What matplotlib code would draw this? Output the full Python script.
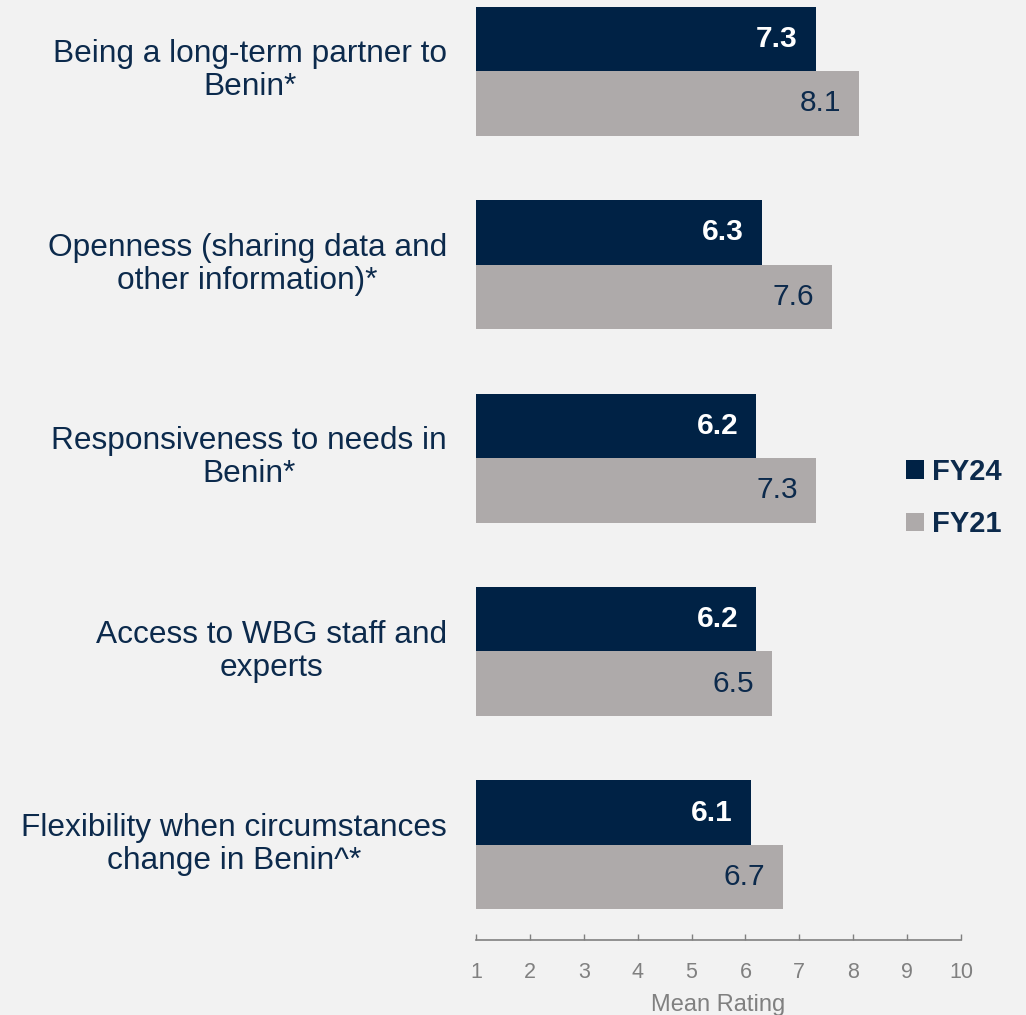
import matplotlib
matplotlib.use("Agg")
import matplotlib.pyplot as plt
from matplotlib.patches import Patch
import numpy as np

categories = [
    "Being a long-term partner to\nBenin*",
    "Openness (sharing data and\nother information)*",
    "Responsiveness to needs in\nBenin*",
    "Access to WBG staff and\nexperts",
    "Flexibility when circumstances\nchange in Benin^*",
]
fy24 = [7.3, 6.3, 6.2, 6.2, 6.1]
fy21 = [8.1, 7.6, 7.3, 6.5, 6.7]
series_names = ["FY24", "FY21"]
xticks = [1, 2, 3, 4, 5, 6, 7, 8, 9, 10]

NAVY = "#002245"
GRAY = "#aeaaaa"
TEXT = "#0c2a4c"
AXGRAY = "#808080"
BG = "#f2f2f2"

plt.rcParams['font.family'] = ['Liberation Sans', 'DejaVu Sans']

fig = plt.figure(figsize=(10.26, 10.15), dpi=100, facecolor=BG)
ax = fig.add_axes([476/1026, 75/1015, 485/1026, 940/1015])
ax.set_facecolor(BG)

y = np.arange(len(categories))
h = 1/3
base = 1
ax.barh(y - h/2, np.array(fy24) - base, left=base, height=h, color=NAVY)
ax.barh(y + h/2, np.array(fy21) - base, left=base, height=h, color=GRAY)

pad = 0.33
for i, v in enumerate(fy24):
    ax.text(v - pad, y[i] - h/2, f"{v:.1f}", ha="right", va="center",
            color="white", fontsize=21.5, fontweight="bold")
for i, v in enumerate(fy21):
    ax.text(v - pad, y[i] + h/2, f"{v:.1f}", ha="right", va="center",
            color=TEXT, fontsize=21.5)

ax.set_xlim(1, 10)
ax.set_ylim(4.491, -0.367)
ax.set_xticks(xticks)
ax.set_xticklabels([str(t) for t in xticks])
ax.tick_params(axis="x", direction="in", length=4.5, width=1, colors=AXGRAY,
               labelsize=15.5, pad=15.5)
ax.set_yticks(y - 0.028)
ax.set_yticklabels(categories, fontsize=22.8, color=TEXT, linespacing=1.13)
ax.tick_params(axis="y", length=0, pad=21)
for lbl in ax.get_yticklabels():
    lbl.set_multialignment("center")

for s in ["top", "right", "left"]:
    ax.spines[s].set_visible(False)
ax.spines["bottom"].set_color(AXGRAY)
ax.spines["bottom"].set_linewidth(1.2)

ax.set_xlabel("Mean Rating", fontsize=17, color=AXGRAY, labelpad=8)

handles = [Patch(facecolor=NAVY, label=series_names[0]),
           Patch(facecolor=GRAY, label=series_names[1])]
leg = fig.legend(handles=handles, loc="center left",
                 bbox_to_anchor=(906/1026, 1 - 498/1015), frameon=False,
                 handlelength=0.6, handleheight=0.6, handletextpad=0.3,
                 labelspacing=0.85, borderaxespad=0, borderpad=0,
                 prop={"size": 21, "weight": "bold"})
for t in leg.get_texts():
    t.set_color(TEXT)

fig.savefig("out.png", dpi=100, facecolor=BG)
